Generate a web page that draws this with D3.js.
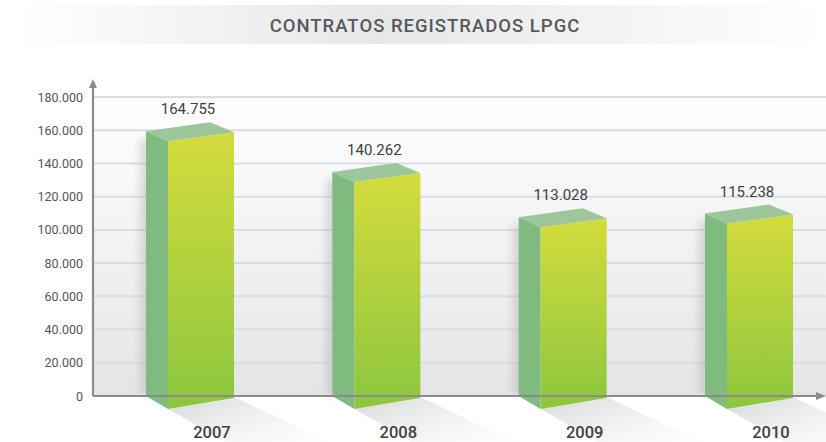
<!DOCTYPE html>
<html><head><meta charset="utf-8">
<script src="https://cdn.jsdelivr.net/npm/d3@7"></script>
<style>body{margin:0;background:#fff}svg{display:block}</style>
</head><body>
<script>
const title = "CONTRATOS REGISTRADOS LPGC";
const years = ["2007","2008","2009","2010"];
const values = [164755, 140262, 113028, 115238];
const valueLabels = ["164.755","140.262","113.028","115.238"];
const tickValues = [0,20000,40000,60000,80000,100000,120000,140000,160000,180000];
const tickLabels = ["0","20.000","40.000","60.000","80.000","100.000","120.000","140.000","160.000","180.000"];

const W=826,H=442;
const svg=d3.select("body").append("svg").attr("width",W).attr("height",H);
const defs=svg.append("defs");
const font="Roboto, 'DejaVu Sans', sans-serif";

const tg=defs.append("linearGradient").attr("id","tbg");
tg.append("stop").attr("offset","0%").attr("stop-color","#ffffff");
tg.append("stop").attr("offset","45%").attr("stop-color","#e6e7e8");
tg.append("stop").attr("offset","100%").attr("stop-color","#ffffff");
const pg=defs.append("linearGradient").attr("id","pbg").attr("x1",0).attr("x2",0).attr("y1",0).attr("y2",1);
pg.append("stop").attr("offset","0%").attr("stop-color","#ffffff");
pg.append("stop").attr("offset","100%").attr("stop-color","#e4e5e7");
const fg=defs.append("linearGradient").attr("id","front").attr("x1",0).attr("x2",0).attr("y1",0).attr("y2",1);
fg.append("stop").attr("offset","0%").attr("stop-color","#d4dc3c");
fg.append("stop").attr("offset","100%").attr("stop-color","#8cc63f");
const sg=defs.append("linearGradient").attr("id","shad").attr("x1",0).attr("x2",1).attr("y1",0).attr("y2",1);
sg.append("stop").attr("offset","0%").attr("stop-color","#bdbec0").attr("stop-opacity",0.6);
sg.append("stop").attr("offset","100%").attr("stop-color","#ffffff").attr("stop-opacity",0);
const blur=defs.append("filter").attr("id","blur").attr("x","-50%").attr("y","-50%").attr("width","200%").attr("height","200%");
blur.append("feGaussianBlur").attr("stdDeviation",4);

// title band
svg.append("rect").attr("x",15).attr("y",5).attr("width",W-15).attr("height",39).attr("fill","url(#tbg)");
svg.append("text").attr("x",425).attr("y",32).attr("text-anchor","middle")
  .attr("font-family",font).attr("font-weight",500).attr("font-size",18.5).attr("fill","#58595b")
  .attr("letter-spacing",1).text(title);

const y=d3.scaleLinear().domain([0,180000]).range([396,97]);
const x=d3.scalePoint().domain(years).range([146,705]);
const x0=93, xEnd=822, y0=y(0);

// plot background
svg.append("rect").attr("x",x0).attr("y",y(180000)).attr("width",W-x0).attr("height",y0-y(180000)).attr("fill","url(#pbg)");

// gridlines
svg.append("g").selectAll("line").data(tickValues.filter(d=>d>0)).join("line")
  .attr("x1",x0).attr("x2",W).attr("y1",d=>y(d)).attr("y2",d=>y(d))
  .attr("stroke","#dcdddf").attr("stroke-width",2);

// tick labels
svg.append("g").selectAll("text").data(tickValues).join("text")
  .attr("x",83).attr("y",d=>y(d)+4.5).attr("text-anchor","end")
  .attr("font-family",font).attr("font-size",12.5).attr("fill","#545557")
  .text((d,i)=>tickLabels[i]);

// floor shadows
const bars=svg.append("g");
years.forEach((yr,i)=>{
  const xb=x(yr);
  bars.append("polygon").attr("points",[[xb+22,y0+13],[xb+90,y0+2],[xb+200,H+8],[xb+115,H+20]].map(p=>p.join(",")).join(" "))
    .attr("fill","url(#shad)");
});

// axes
const ax=svg.append("g").attr("stroke","#8a8b8d").attr("stroke-width",2.2).attr("fill","none");
ax.append("line").attr("x1",x0).attr("x2",x0).attr("y1",y0).attr("y2",84);
ax.append("line").attr("x1",x0).attr("x2",xEnd).attr("y1",y0).attr("y2",y0);
svg.append("path").attr("d",`M${x0-4},${88} L${x0},${79} L${x0+4},${88} Z`).attr("fill","#8a8b8d");
svg.append("path").attr("d",`M${xEnd-6},${y0-4} L${W},${y0} L${xEnd-6},${y0+4} Z`).attr("fill","#8a8b8d");

// bars
years.forEach((yr,i)=>{
  const xb=x(yr), yT=y(values[i]);
  const g=bars.append("g");
  g.append("rect").attr("x",xb-6).attr("y",yT+16).attr("width",14).attr("height",y0-yT-18)
    .attr("fill","#9a9b9d").attr("opacity",0.35).attr("filter","url(#blur)");
  const pts=a=>a.map(p=>p.join(",")).join(" ");
  g.append("polygon").attr("points",pts([[xb,yT+9],[xb+22,yT+19],[xb+22,y0+13],[xb,y0]])).attr("fill","#7fbb7e");
  g.append("polygon").attr("points",pts([[xb+22,yT+19],[xb+88,yT+10],[xb+88,y0+2],[xb+22,y0+13]])).attr("fill","url(#front)");
  g.append("polygon").attr("points",pts([[xb,yT+9],[xb+64,yT],[xb+88,yT+10],[xb+22,yT+19]])).attr("fill","#9dc69a");
  g.append("text").attr("x",xb+42).attr("y",yT-8).attr("text-anchor","middle")
    .attr("font-family",font).attr("font-size",15).attr("fill","#3f4042").text(valueLabels[i]);
  g.append("text").attr("x",xb+66).attr("y",438).attr("text-anchor","middle")
    .attr("font-family",font).attr("font-weight",500).attr("font-size",16.5).attr("fill","#3f4042").text(yr);
});
</script>
</body></html>
